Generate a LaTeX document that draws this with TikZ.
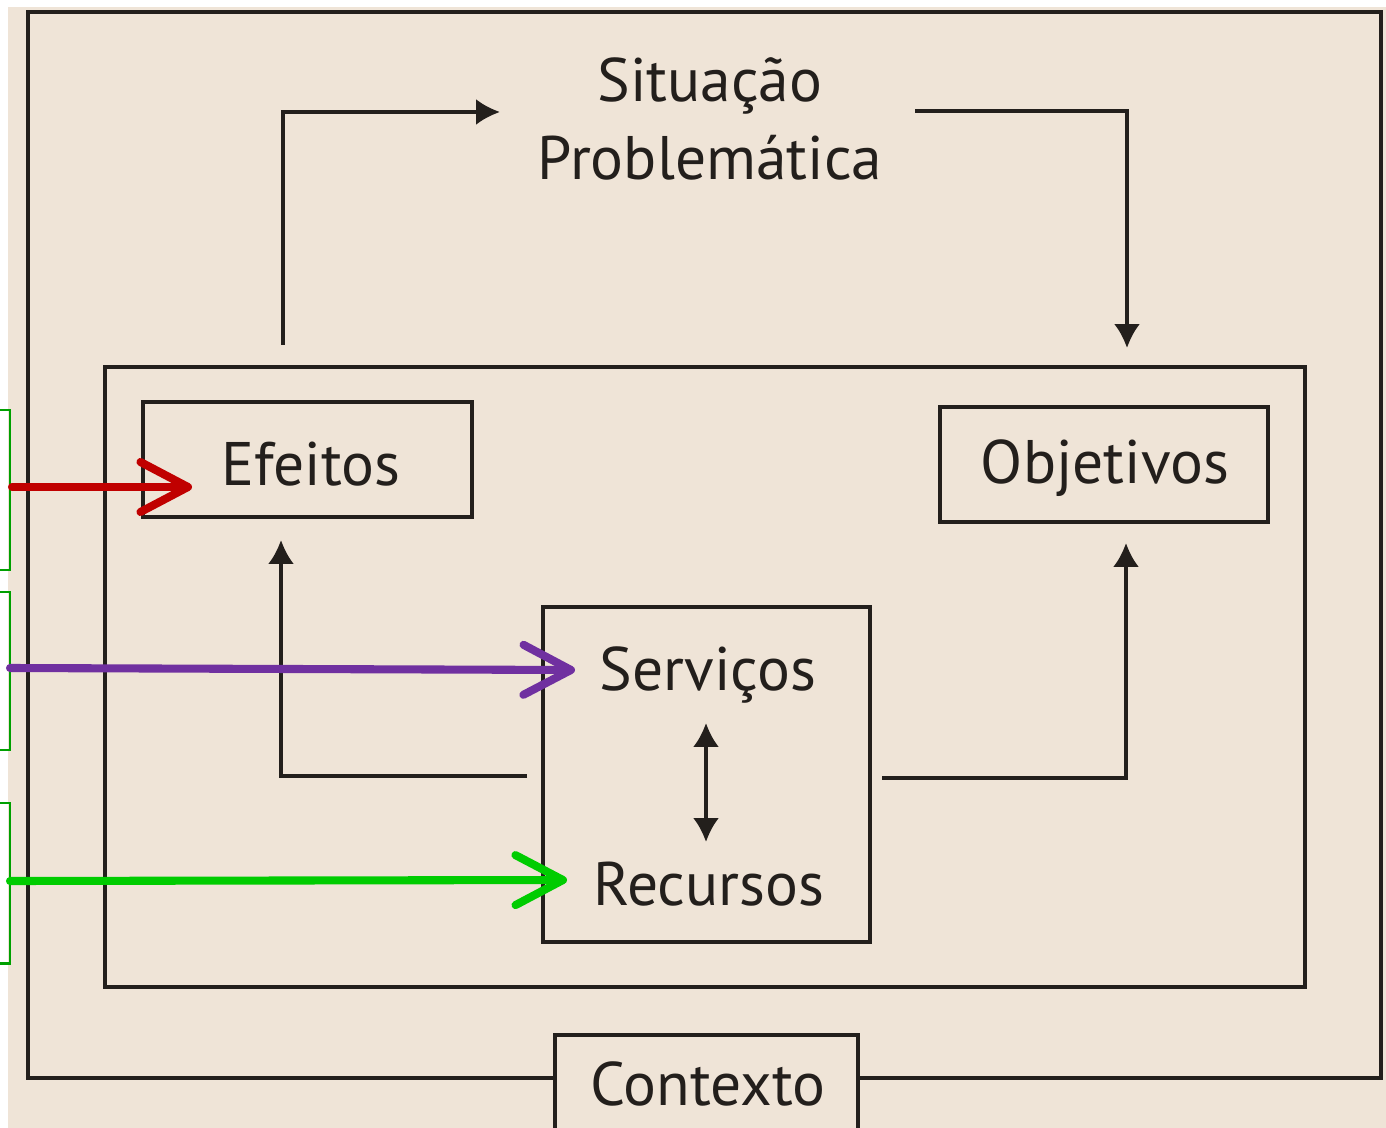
\documentclass[tikz,border=0pt]{standalone}
\usepackage{fontspec}
\setmainfont{PT Sans}
\usetikzlibrary{arrows.meta, positioning}
\definecolor{papel}{HTML}{EFE4D7}
\definecolor{tinta}{HTML}{231F1C}
\definecolor{vermelho}{HTML}{C00000}
\definecolor{roxo}{HTML}{7030A0}
\definecolor{verde}{HTML}{00CC00}
\definecolor{verdeesc}{HTML}{00A000}

\begin{document}
\begin{tikzpicture}[x=0.02cm, y=-0.02cm,
  caixa/.style={draw=tinta, line width=2.6pt, inner sep=0pt},
  rotulo/.style={font=\fontsize{35}{42}\selectfont, text=tinta, anchor=base, inner sep=0pt},
  seta/.style={draw=tinta, line width=2pt, -{Latex[length=0.48cm, width=0.52cm]}},
  marca/.style={line width=4.6pt, line cap=round, -{Straight Barb[length=0.95cm, width=1cm, round]}},
  chave/.style={draw=verdeesc, line width=1.7pt}]
\useasboundingbox (0,0) rectangle (1386,1128);
\fill[papel] (8,7) rectangle (1386,1128);

% caixas
\node[caixa, minimum width=6.58cm, minimum height=2.3cm] (ef) at (307.5,459.5) {};
\node[caixa, minimum width=6.56cm, minimum height=2.3cm] (ob) at (1104,464.5) {};
\node[caixa, minimum width=6.54cm, minimum height=6.7cm] (sr) at (706.5,774.5) {};
\node[caixa, minimum width=24cm, minimum height=12.4cm] (sis) at (705,677) {};
\node[caixa, minimum width=6.06cm, minimum height=2.1cm] (ctx) at (706.5,1087.5) {};

% textos
\node[rotulo] (sit) at (710,102) {Situação};
\node[rotulo] (prob) at (710,180) {Problemática};
\node[rotulo] (eft) at (311,485) {Efeitos};
\node[rotulo] (obt) at (1105,483) {Objetivos};
\node[rotulo] (svt) at (708,690) {Serviços};
\node[rotulo] (rct) at (709,905) {Recursos};
\node[rotulo] (ctxt) at (708,1105) {Contexto};

% moldura do contexto
\coordinate (fbl) at (28,1078);
\coordinate (ftl) at (28,12);
\coordinate (ftr) at (1381,12);
\coordinate (fbr) at (1381,1078);
\draw[tinta, line width=2.7pt] (ctx.west |- fbl) -- (fbl) -- (ftl) -- (ftr) -- (fbr) -- (ctx.east |- fbr);

% ciclo
\coordinate (s0) at (283,345);
\coordinate (s1) at (500,112);
\coordinate (s2) at (915,111);
\coordinate (s3) at (1127,348);
\coordinate (e0) at (527,776);
\coordinate (e1) at (281,540);
\coordinate (o0) at (882,778);
\coordinate (o1) at (1126,543);
\coordinate (d0) at (706,723);
\coordinate (d1) at (706,842);
\draw[seta] (s0) |- (s1);
\draw[seta] (s2) -| (s3);
\draw[seta] (e0) -| (e1);
\draw[seta] (o0) -| (o1);
\draw[seta, {Latex[length=0.48cm, width=0.52cm]}-{Latex[length=0.48cm, width=0.52cm]}] (d0) -- (d1);

% chaves e setas coloridas
\foreach \t/\b/\n in {410/570/1, 592/750/2, 803/963/3}
  \draw[chave] (0,\t) -- (10,\t) -- (10,\b) -- (0,\b);
\coordinate (r0) at (12,487);
\coordinate (r1) at (192,487);
\coordinate (p0) at (10,668);
\coordinate (p1) at (575,670);
\coordinate (g0) at (10,881);
\coordinate (g1) at (567,880);
\draw[marca, vermelho] (r0) -- (r1);
\draw[marca, roxo] (p0) -- (p1);
\draw[marca, verde] (g0) -- (g1);
\end{tikzpicture}
\end{document}
